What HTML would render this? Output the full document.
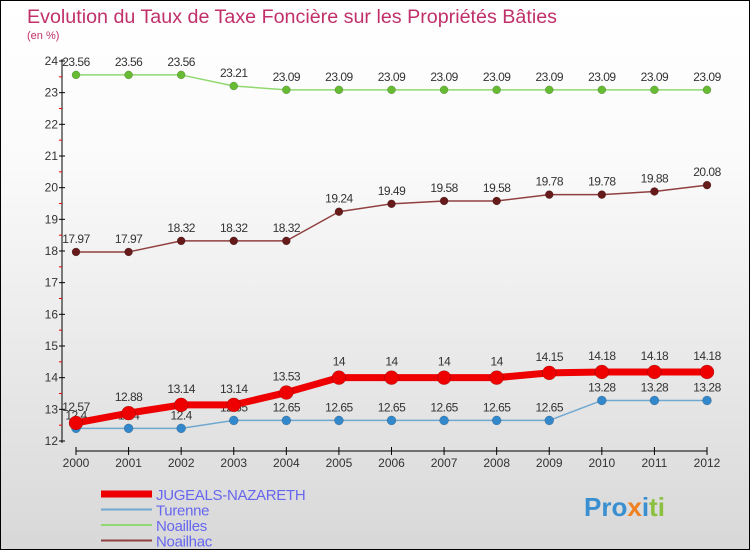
<!DOCTYPE html>
<html><head><meta charset="utf-8"><style>
body{margin:0}
#c{width:748px;height:548px;border:1px solid #000;background:linear-gradient(#fff,#fafafa 30%,#d8d8d8);position:relative;overflow:hidden;font-family:"Liberation Sans",sans-serif}
</style></head><body>
<div id="c">
<svg id="s" width="748" height="548" style="position:absolute;left:0;top:0" font-family="Liberation Sans, sans-serif">
<text x="26" y="22" font-size="19" fill="#c0306a" textLength="530" lengthAdjust="spacingAndGlyphs">Evolution du Taux de Taxe Foncière sur les Propriétés Bâties</text>
<text x="26" y="38" font-size="11" fill="#c0306a">(en %)</text>
<g id="axes"></g><g id="series"></g><g id="legend"></g>
<text x="583" y="515" font-size="26" font-weight="bold"><tspan fill="#3a8fd0">Pro</tspan><tspan fill="#f08020">x</tspan><tspan fill="#3a8fd0">i</tspan><tspan fill="#8cc040">ti</tspan></text>
</svg>
</div>
<script>
const years=[2000,2001,2002,2003,2004,2005,2006,2007,2008,2009,2010,2011,2012];
const yTicks=[12,13,14,15,16,17,18,19,20,21,22,23,24];
const jugeals=[12.57,12.88,13.14,13.14,13.53,14,14,14,14,14.15,14.18,14.18,14.18];
const turenne=[12.4,12.4,12.4,12.65,12.65,12.65,12.65,12.65,12.65,12.65,13.28,13.28,13.28];
const noailles=[23.56,23.56,23.56,23.21,23.09,23.09,23.09,23.09,23.09,23.09,23.09,23.09,23.09];
const noailhac=[17.97,17.97,18.32,18.32,18.32,19.24,19.49,19.58,19.58,19.78,19.78,19.88,20.08];
const NS='http://www.w3.org/2000/svg';
const X=i=>75+i*(706-75)/(years.length-1);
const Y=v=>440-(v-12)*(380/12);
function mk(p,t,a){const e=document.createElementNS(NS,t);for(const k in a)e.setAttribute(k,a[k]);p.appendChild(e);return e;}
const ax=document.getElementById('axes');
const yl=mk(ax,'line',{x1:61,y1:58,x2:61,y2:442,stroke:'#000'});


yTicks.forEach(v=>{
 mk(ax,'line',{x1:58,x2:64,y1:Y(v),y2:Y(v),stroke:'#000'});
 if(v<24)mk(ax,'line',{x1:58,x2:61,y1:Y(v+0.5),y2:Y(v+0.5),stroke:'#e00'});
 const t=mk(ax,'text',{x:57,y:Y(v)+4,'font-size':12,'text-anchor':'end',fill:'#333'});t.textContent=v;
 
 
});
const xl=mk(ax,'line',{x1:75,y1:450,x2:706,y2:450,stroke:'#000'});


years.forEach((y,i)=>{
 mk(ax,'line',{x1:X(i),x2:X(i),y1:446,y2:454,stroke:'#000'});
 const t=mk(ax,'text',{x:X(i),y:466,'font-size':12,'text-anchor':'middle',fill:'#333'});t.textContent=y;
 
 
});
const sg=document.getElementById('series');
function series(name,vals,col,dot,w,r,lblOff){
 const g=mk(sg,'g',{});
 
 
 mk(g,'polyline',{points:vals.map((v,i)=>X(i)+','+Y(v)).join(' '),fill:'none',stroke:col,'stroke-width':w,'stroke-linejoin':'round'});
 vals.forEach((v,i)=>{
  const c=mk(g,'circle',{cx:X(i),cy:Y(v),r:r,fill:dot,stroke:'rgba(0,0,0,0.3)','stroke-width':0.5});
  
  
  const t=mk(g,'text',{x:X(i),y:Y(v)-lblOff,'font-size':12,'text-anchor':'middle',fill:'#333','letter-spacing':'-0.5'});t.textContent=v;
  
  
 });
}
series('noailles',noailles,'#90d870','#66bb33',1.5,4,9);
series('noailhac',noailhac,'#904040','#661a1a',1.5,4,9);
series('turenne',turenne,'#70a8d0','#3388cc',1.5,4.5,9);
series('jugeals',jugeals,'#ee0000','#ee0000',7,7,12);
const lg=document.getElementById('legend');
[['JUGEALS-NAZARETH','#ee0000',7],['Turenne','#70a8d0',2],['Noailles','#90d870',2],['Noailhac','#904040',2]].forEach((d,i)=>{
 const y=493+i*15.5;
 const g=mk(lg,'g',{});
 
 
 mk(g,'line',{x1:100,x2:151,y1:y,y2:y,stroke:d[1],'stroke-width':d[2]});
 const t=mk(g,'text',{x:155,y:y+6,'font-size':15,fill:'#6666ee','letter-spacing':'-0.3'});t.textContent=d[0];
});
</script>
</body></html>
